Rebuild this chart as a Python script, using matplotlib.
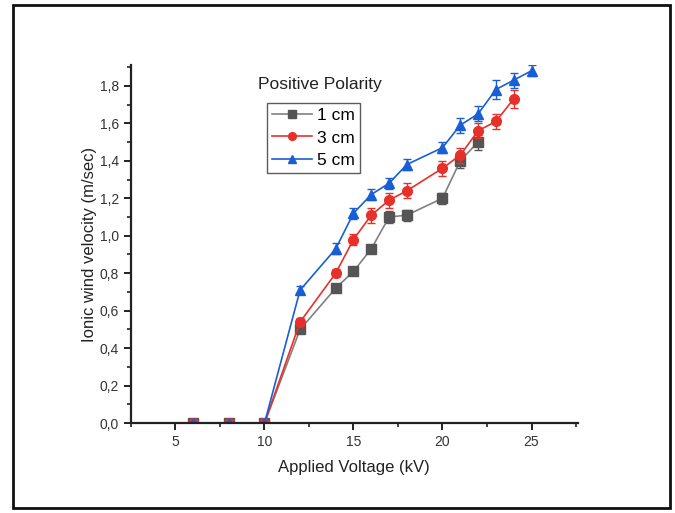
# Ionic wind velocity vs applied voltage, positive polarity, three gap distances

import matplotlib
matplotlib.use("Agg")
import matplotlib.pyplot as plt
from matplotlib.patches import Rectangle
from matplotlib.ticker import FuncFormatter, MultipleLocator

plt.rcParams["font.family"] = ["Liberation Sans", "DejaVu Sans"]

voltage_1cm = [6, 8, 10, 12, 14, 15, 16, 17, 18, 20, 21, 22]
velocity_1cm = [0, 0, 0, 0.50, 0.72, 0.81, 0.93, 1.10, 1.11, 1.20, 1.40, 1.50]
err_1cm = [0, 0, 0, 0.02, 0.02, 0.02, 0.02, 0.03, 0.03, 0.03, 0.04, 0.04]

voltage_3cm = [6, 8, 10, 12, 14, 15, 16, 17, 18, 20, 21, 22, 23, 24]
velocity_3cm = [0, 0, 0, 0.54, 0.80, 0.98, 1.11, 1.19, 1.24, 1.36, 1.43, 1.56, 1.61, 1.73]
err_3cm = [0, 0, 0, 0.02, 0.02, 0.03, 0.04, 0.04, 0.04, 0.04, 0.04, 0.04, 0.04, 0.05]

voltage_5cm = [6, 8, 10, 12, 14, 15, 16, 17, 18, 20, 21, 22, 23, 24, 25]
velocity_5cm = [0, 0, 0, 0.71, 0.93, 1.12, 1.22, 1.28, 1.38, 1.47, 1.59, 1.65, 1.78, 1.83, 1.88]
err_5cm = [0, 0, 0, 0.02, 0.03, 0.03, 0.03, 0.03, 0.03, 0.03, 0.04, 0.04, 0.05, 0.04, 0.03]

gray_color = "#555555"
red_color = "#e8302a"
blue_color = "#1a5ed6"


def plot_velocity():
    fig = plt.figure(figsize=(6.75, 5.13), dpi=100)
    ax = fig.add_axes([0.194, 0.175, 0.662, 0.698])

    series = [
        (voltage_1cm, velocity_1cm, err_1cm, "1 cm", gray_color, "s", "#808080"),
        (voltage_3cm, velocity_3cm, err_3cm, "3 cm", red_color, "o", red_color),
        (voltage_5cm, velocity_5cm, err_5cm, "5 cm", blue_color, "^", blue_color),
    ]
    handles = []
    for i, (x, y, e, label, color, marker, line_color) in enumerate(series):
        ax.errorbar(
            x, y, yerr=e,
            fmt="none", ecolor=color, elinewidth=1.0, capsize=3, capthick=1.0,
            zorder=2 + i,
        )
        (h,) = ax.plot(
            x, y,
            color=line_color, linewidth=1.2,
            marker=marker, markersize=7,
            markerfacecolor=color, markeredgecolor=color,
            label=label, zorder=2.5 + i,
        )
        handles.append(h)

    ax.set_xlim(2.5, 27.6)
    ax.set_ylim(0, 1.91)

    ax.xaxis.set_major_locator(MultipleLocator(5))
    ax.xaxis.set_minor_locator(MultipleLocator(2.5))
    ax.yaxis.set_major_locator(MultipleLocator(0.2))
    ax.yaxis.set_minor_locator(MultipleLocator(0.1))
    ax.yaxis.set_major_formatter(
        FuncFormatter(lambda v, pos: f"{v:.1f}".replace(".", ","))
    )

    for side in ("top", "right"):
        ax.spines[side].set_visible(False)
    for side in ("left", "bottom"):
        ax.spines[side].set_linewidth(1.6)
        ax.spines[side].set_color("#222222")
        ax.spines[side].set_zorder(10)

    ax.tick_params(which="major", direction="out", length=5, width=1.4,
                   labelsize=10, colors="#222222", labelcolor="#333333")
    ax.tick_params(which="minor", direction="out", length=3, width=1.2,
                   colors="#222222")

    ax.set_xlabel("Applied Voltage (kV)", fontsize=12, labelpad=8, color="#222222")
    ax.set_ylabel("Ionic wind velocity (m/sec)", fontsize=12, labelpad=2,
                  color="#222222")

    # Title sits above the legend box
    ax.text(0.423, 0.945, "Positive Polarity", transform=ax.transAxes,
            ha="center", va="center", fontsize=12.5, color="#222222")
    leg = ax.legend(
        handles=handles, loc="upper left", bbox_to_anchor=(0.304, 0.894),
        fontsize=12.5, frameon=True, fancybox=False, handlelength=2.3,
        handletextpad=0.3, borderpad=0.3, labelspacing=0.4, borderaxespad=0,
        markerscale=0.8,
    )
    leg.get_frame().set_edgecolor("#333333")
    leg.get_frame().set_linewidth(1.0)

    # Outer frame around the whole figure
    fig.patches.append(Rectangle(
        (13 / 675, 5 / 513), 657 / 675, 503 / 513,
        transform=fig.transFigure, fill=False, edgecolor="#111111",
        linewidth=2.0,
    ))

    fig.savefig("out.png", dpi=100)


if __name__ == "__main__":
    plot_velocity()
